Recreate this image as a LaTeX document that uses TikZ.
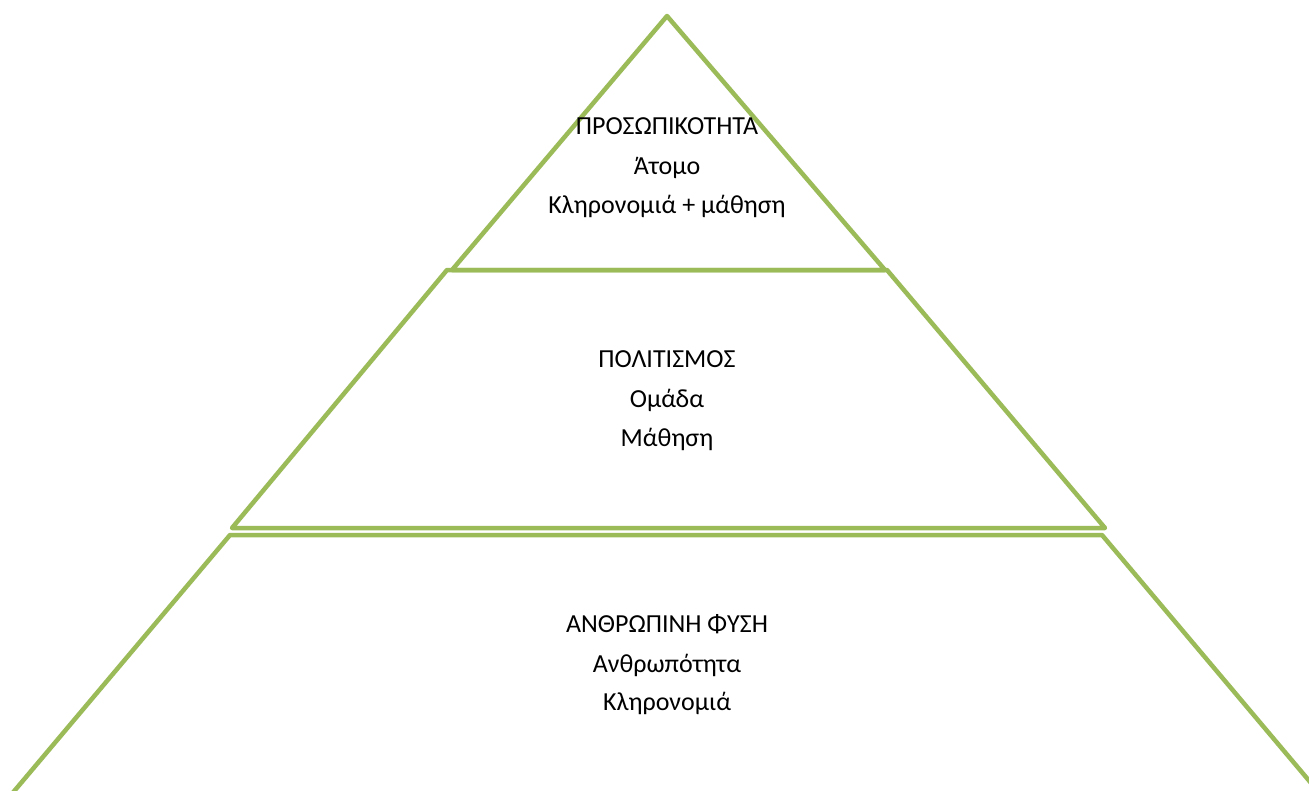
\documentclass[tikz,border=0pt]{standalone}
\usepackage{fontspec}
\setmainfont{Carlito}
\definecolor{olivegreen}{HTML}{9BBB59}
\tikzset{
  tier/.style={draw=olivegreen, line width=4.5pt, line join=round},
  label/.style={anchor=base, inner sep=0pt, font=\fontsize{26}{30}\selectfont}
}
\begin{document}
\begin{tikzpicture}[x=1pt,y=-1pt]
\useasboundingbox (0,0) rectangle (1309,790);
\begin{scope}
\clip (0,0) rectangle (1309,790);
% top triangle
\draw[tier] (667,16) -- (452,270) -- (885,270) -- cycle;
% middle trapezoid
\draw[tier] (447,270) -- (887,270) -- (1105,528) -- (232,528) -- cycle;
% bottom trapezoid
\draw[tier] (230,535) -- (1102,535) -- (1327,802) -- (5,802) -- cycle;
\end{scope}
% texts
\node[label] (t1) at (667,134) {ΠΡΟΣΩΠΙΚΟΤΗΤΑ};
\node[label] (t2) at (667,174) {Άτομο};
\node[label] (t3) at (667,213) {Κληρονομιά + μάθηση};
\node[label] (m1) at (667,367) {ΠΟΛΙΤΙΣΜΟΣ};
\node[label] (m2) at (667,407) {Ομάδα};
\node[label] (m3) at (667,446) {Μάθηση};
\node[label] (b1) at (667,632) {ΑΝΘΡΩΠΙΝΗ ΦΥΣΗ};
\node[label] (b2) at (667,672) {Ανθρωπότητα};
\node[label] (b3) at (667,710) {Κληρονομιά};
\end{tikzpicture}
\end{document}
